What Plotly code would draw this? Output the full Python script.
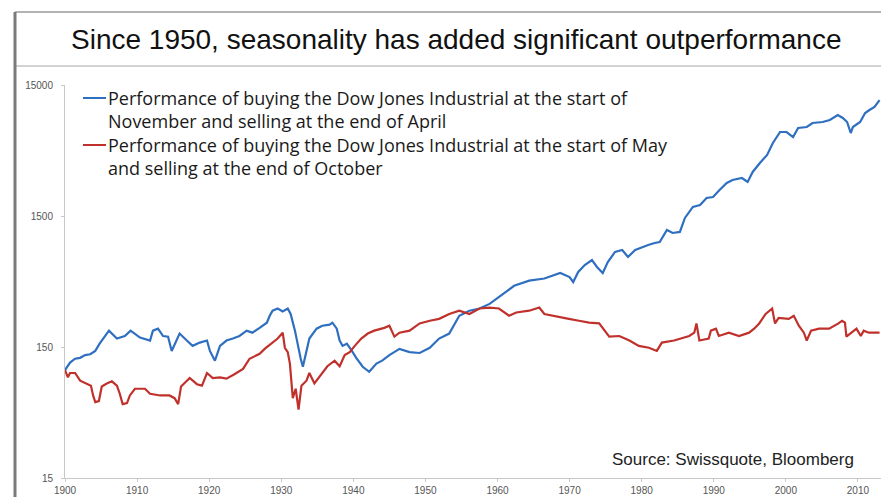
import plotly.graph_objects as go

# Cumulative value of 100 invested at the start of 1900 (log scale)
# Buy at start of November, sell at end of April
winter_years = [1900.0, 1900.7, 1901.4, 1902.1, 1902.8, 1903.5, 1904.2, 1904.8, 1906.1, 1907.2,
                1908.3, 1909.1, 1910.4, 1911.8, 1912.2, 1912.9, 1913.6, 1914.3, 1914.8, 1915.4,
                1915.9, 1916.9, 1917.7, 1918.7, 1919.7, 1920.1, 1920.8, 1921.5, 1922.4, 1923.3,
                1924.2, 1925.2, 1926.0, 1927.0, 1928.0, 1928.4, 1928.8, 1929.5, 1930.2, 1930.9,
                1931.3, 1931.9, 1932.3, 1932.7, 1933.0, 1933.5, 1933.9, 1934.9, 1935.7, 1936.7,
                1937.1, 1937.7, 1938.1, 1938.5, 1939.1, 1939.8, 1940.4, 1941.3, 1942.2, 1943.2,
                1944.0, 1945.0, 1945.9, 1946.4, 1947.8, 1949.2, 1950.6, 1951.9, 1953.3, 1954.7,
                1956.1, 1957.5, 1958.9, 1959.8, 1960.9, 1962.3, 1964.4, 1966.5, 1968.7, 1970.0,
                1970.5, 1971.2, 1972.1, 1973.1, 1973.8, 1974.6, 1975.3, 1976.3, 1977.3, 1978.1,
                1979.1, 1980.1, 1980.9, 1981.8, 1982.5, 1983.5, 1984.3, 1985.3, 1986.0, 1987.1,
                1988.1, 1989.0, 1989.9, 1990.8, 1991.8, 1992.6, 1993.9, 1994.7, 1995.4, 1996.4,
                1997.4, 1998.2, 1999.2, 2000.1, 2001.0, 2001.7, 2002.9, 2003.7, 2005.1, 2006.1,
                2007.2, 2007.9, 2008.5, 2009.0, 2009.3, 2010.3, 2011.0, 2011.6, 2012.3, 2013.0]
winter_values = [100, 114, 122, 124, 130, 132, 140, 159, 200, 174,
                 182, 200, 177, 168, 200, 207, 182, 180, 140, 168,
                 190, 168, 153, 162, 168, 140, 118, 153, 168, 174,
                 182, 200, 193, 210, 230, 260, 284, 295, 280, 295,
                 268, 200, 153, 122, 106, 140, 174, 207, 218, 222,
                 230, 207, 168, 153, 159, 140, 124, 106, 97, 112,
                 118, 130, 140, 145, 137, 135, 148, 174, 190, 260,
                 284, 295, 320, 349, 382, 440, 482, 500, 551, 513,
                 470, 561, 634, 692, 612, 551, 668, 797, 825, 730,
                 825, 870, 901, 934, 950, 1173, 1113, 1133, 1449, 1758,
                 1820, 2058, 2095, 2368, 2678, 2825, 2925, 2728, 3253, 3810,
                 4385, 5412, 6565, 6565, 6014, 7043, 7167, 7691, 7829, 8110,
                 8850, 8400, 7829, 6450, 7167, 7829, 9170, 9668, 10190, 11510]

# Buy at start of May, sell at end of October
summer_years = [1900.0, 1900.4, 1900.7, 1901.4, 1902.1, 1903.0, 1903.6, 1903.9, 1904.2, 1904.7,
                1905.1, 1905.8, 1906.5, 1907.2, 1907.6, 1908.0, 1908.6, 1909.0, 1909.7, 1911.1,
                1911.8, 1913.2, 1914.5, 1915.2, 1915.7, 1916.1, 1917.3, 1918.3, 1919.0, 1919.7,
                1920.5, 1921.5, 1922.4, 1923.5, 1924.7, 1925.6, 1927.0, 1927.7, 1928.7, 1929.5,
                1930.2, 1930.5, 1930.9, 1931.2, 1931.6, 1932.0, 1932.4, 1932.8, 1933.5, 1933.9,
                1934.6, 1935.6, 1936.4, 1937.4, 1938.1, 1938.8, 1939.5, 1940.2, 1941.1, 1942.0,
                1942.9, 1944.3, 1945.0, 1945.7, 1946.4, 1947.8, 1949.2, 1950.6, 1951.9, 1953.3,
                1954.7, 1956.1, 1957.5, 1958.9, 1960.2, 1961.6, 1962.6, 1964.4, 1965.8, 1966.5,
                1967.9, 1969.9, 1971.3, 1972.7, 1974.1, 1974.8, 1975.5, 1976.9, 1978.3, 1979.6,
                1981.0, 1982.1, 1982.8, 1984.5, 1986.6, 1987.3, 1987.6, 1988.0, 1989.3, 1989.6,
                1990.3, 1990.7, 1992.1, 1993.5, 1994.9, 1995.6, 1996.3, 1997.2, 1998.1, 1998.5,
                1999.0, 2000.4, 2001.1, 2001.8, 2002.5, 2002.9, 2003.5, 2004.6, 2006.0, 2007.3,
                2007.8, 2008.2, 2008.4, 2009.1, 2009.8, 2010.4, 2010.8, 2011.5, 2013.0]
summer_values = [100, 88, 95, 95, 83, 79, 76, 64, 57, 58,
                 75, 79, 82, 76, 66, 55, 56, 64, 72, 72,
                 66, 64, 64, 61, 55, 75, 87, 78, 76, 95,
                 87, 88, 86, 93, 102, 122, 133, 145, 162, 174,
                 193, 148, 137, 112, 61, 72, 50, 76, 83, 95,
                 79, 93, 107, 118, 107, 130, 137, 153, 174, 190,
                 200, 210, 218, 180, 193, 200, 227, 238, 246, 268,
                 284, 268, 295, 300, 295, 260, 275, 284, 300, 268,
                 260, 246, 238, 230, 227, 200, 180, 182, 168, 153,
                 148, 140, 162, 168, 182, 193, 227, 168, 174, 200,
                 207, 182, 193, 182, 193, 207, 227, 268, 295, 227,
                 250, 246, 260, 218, 193, 168, 200, 207, 207, 227,
                 238, 230, 180, 193, 207, 182, 200, 193, 193]

# Legend captions (two lines each)
winter_caption = ["Performance of buying the Dow Jones Industrial at the start of",
                  "November and selling at the end of April"]
summer_caption = ["Performance of buying the Dow Jones Industrial at the start of May",
                  "and selling at the end of October"]

x_ticks = [1900, 1910, 1920, 1930, 1940, 1950, 1960, 1970, 1980, 1990, 2000, 2010]
y_ticks = [15, 150, 1500, 15000]

BLUE = "#2f6fc0"
RED = "#c0312c"

# plot area in pixels: left 65, right 881, top 85, bottom 478
PL, PW, PB, PH = 65, 816, 478, 393


def px(x):
    return (x - PL) / PW


def py(y):
    return (PB - y) / PH


fig = go.Figure()
fig.add_trace(go.Scatter(x=winter_years, y=winter_values, mode="lines",
                         name=" ".join(winter_caption), line=dict(color=BLUE, width=2.2)))
fig.add_trace(go.Scatter(x=summer_years, y=summer_values, mode="lines",
                         name=" ".join(summer_caption), line=dict(color=RED, width=2.2)))

axis_font = dict(family="Liberation Sans, Arial, sans-serif", size=10, color="#555555")

fig.update_layout(
    width=881, height=497,
    margin=dict(l=PL, r=0, t=85, b=19),
    paper_bgcolor="white", plot_bgcolor="white",
    showlegend=False,
    xaxis=dict(range=[1900, 2013.2], tickvals=x_ticks, ticktext=[str(t) for t in x_ticks],
               showgrid=False, zeroline=False, showline=True, linecolor="#c8c8c8",
               linewidth=1, ticks="outside", ticklen=3, tickcolor="#c8c8c8",
               tickfont=axis_font, automargin=False),
    yaxis=dict(type="log", range=[1.176091, 4.176091], tickvals=y_ticks,
               ticktext=[str(t) for t in y_ticks],
               showgrid=False, zeroline=False, showline=True, linecolor="#c8c8c8",
               linewidth=1, ticks="outside", ticklen=3, tickcolor="#c8c8c8",
               tickfont=axis_font, ticklabelstandoff=6, automargin=False),
)

# Framing lines around the title panel
fig.add_shape(type="line", xref="paper", yref="paper", x0=px(15), x1=1.0,
              y0=py(12), y1=py(12), line=dict(color="#9a9a9a", width=1.5))
fig.add_shape(type="line", xref="paper", yref="paper", x0=px(15), x1=1.0,
              y0=py(66), y1=py(66), line=dict(color="#c4c4c4", width=1.5))
fig.add_shape(type="line", xref="paper", yref="paper", x0=px(15), x1=px(15),
              y0=py(497), y1=py(12), line=dict(color="#7a7a7a", width=3))

fig.add_annotation(text="Since 1950, seasonality has added significant outperformance",
                   xref="paper", yref="paper", x=px(456), y=py(40),
                   xanchor="center", yanchor="middle", showarrow=False,
                   font=dict(family="Liberation Sans, Arial, sans-serif", size=28, color="#111111"))

# Hand-built legend: a short line key followed by a two-line caption
legend_font = dict(family="Open Sans, sans-serif", size=18, color="#1a1a1a")
for color, caption, first_line in [(BLUE, winter_caption, 98), (RED, summer_caption, 145)]:
    fig.add_shape(type="line", xref="paper", yref="paper", x0=px(83), x1=px(106),
                  y0=py(first_line), y1=py(first_line), line=dict(color=color, width=2))
    fig.add_annotation(text="<br>".join(caption), xref="paper", yref="paper", x=px(107),
                       y=py(first_line + 11.7), xanchor="left", yanchor="middle",
                       align="left", borderpad=0, showarrow=False, font=legend_font)

fig.add_annotation(text="Source: Swissquote, Bloomberg",
                   xref="paper", yref="paper", x=px(856), y=py(459),
                   xanchor="right", yanchor="middle", showarrow=False,
                   font=dict(family="Liberation Sans, Arial, sans-serif", size=17, color="#222222"))

fig.write_html("out.html")
